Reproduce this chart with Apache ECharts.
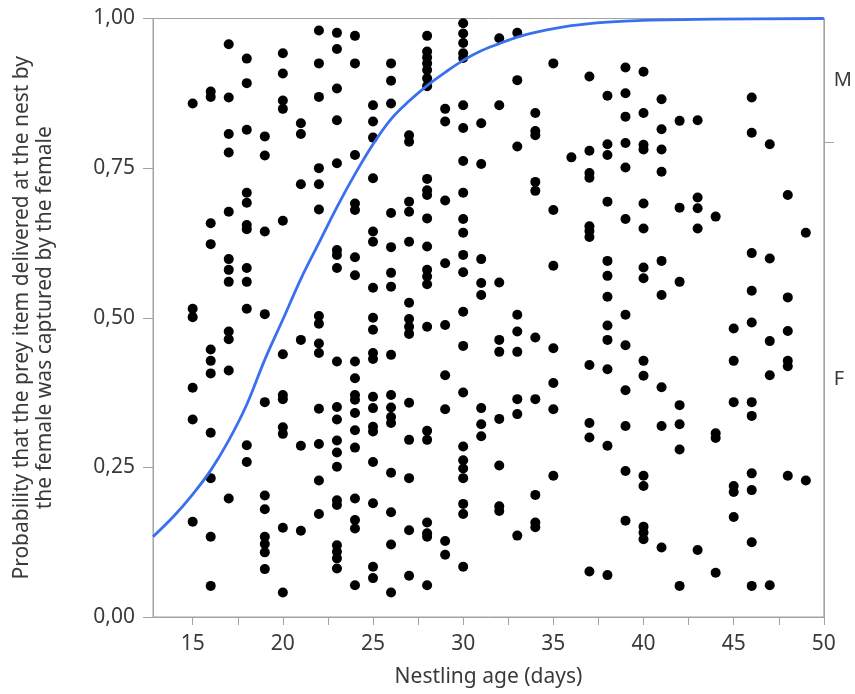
<!DOCTYPE html>
<html>
<head>
<meta charset="utf-8">
<script src="https://cdn.jsdelivr.net/npm/echarts@6/dist/echarts.min.js"></script>
<style>html,body{margin:0;padding:0;background:#fff}#c{width:855px;height:694px}</style>
</head>
<body>
<div id="c"></div>
<script>
// Nestling age (days) of each column of observations
const ages = [15,16,17,18,19,20,21,22,23,24,25,26,27,28,29,30,31,32,33,34,35,36,37,38,39,40,41,42,43,44,45,46,47,48,49];
// jittered response positions (probability scale) per age column
const obs = [
  [0.858,0.515,0.501,0.383,0.330,0.159],
  [0.878,0.869,0.658,0.623,0.447,0.428,0.407,0.308,0.232,0.134,0.052],
  [0.957,0.868,0.807,0.776,0.677,0.598,0.580,0.560,0.477,0.464,0.412,0.198],
  [0.933,0.892,0.814,0.709,0.692,0.655,0.648,0.583,0.560,0.515,0.287,0.259],
  [0.803,0.771,0.644,0.506,0.359,0.203,0.180,0.134,0.122,0.108,0.080],
  [0.942,0.908,0.863,0.849,0.662,0.439,0.371,0.364,0.317,0.306,0.149,0.041],
  [0.825,0.807,0.723,0.463,0.286,0.144],
  [0.980,0.925,0.869,0.750,0.723,0.681,0.503,0.490,0.457,0.441,0.348,0.289,0.228,0.172],
  [0.976,0.949,0.883,0.830,0.758,0.613,0.605,0.583,0.427,0.351,0.330,0.295,0.275,0.251,0.195,0.187,0.120,0.109,0.098,0.081],
  [0.971,0.925,0.772,0.691,0.680,0.601,0.571,0.427,0.399,0.371,0.363,0.341,0.312,0.283,0.198,0.162,0.148,0.053],
  [0.855,0.828,0.801,0.733,0.644,0.627,0.550,0.500,0.480,0.441,0.431,0.368,0.349,0.318,0.310,0.259,0.190,0.084,0.065],
  [0.925,0.896,0.858,0.675,0.618,0.575,0.552,0.438,0.371,0.350,0.334,0.324,0.241,0.175,0.121,0.041],
  [0.805,0.794,0.694,0.677,0.627,0.525,0.498,0.485,0.473,0.358,0.296,0.232,0.145,0.069],
  [0.971,0.945,0.935,0.925,0.914,0.900,0.887,0.732,0.713,0.705,0.666,0.619,0.580,0.569,0.556,0.485,0.311,0.296,0.158,0.140,0.134,0.053],
  [0.849,0.828,0.696,0.591,0.488,0.404,0.347,0.127,0.104],
  [0.992,0.975,0.959,0.942,0.934,0.855,0.817,0.762,0.709,0.665,0.642,0.605,0.576,0.510,0.453,0.375,0.285,0.262,0.248,0.232,0.189,0.172,0.084],
  [0.825,0.757,0.598,0.558,0.538,0.349,0.322,0.302],
  [0.967,0.855,0.559,0.463,0.443,0.331,0.253,0.185,0.177],
  [0.976,0.897,0.786,0.505,0.477,0.443,0.364,0.339,0.136],
  [0.842,0.812,0.805,0.727,0.712,0.467,0.364,0.204,0.158,0.150],
  [0.925,0.680,0.587,0.449,0.391,0.347,0.236],
  [0.768],
  [0.903,0.779,0.742,0.734,0.653,0.645,0.635,0.421,0.324,0.300,0.076],
  [0.871,0.790,0.772,0.694,0.595,0.570,0.535,0.487,0.463,0.414,0.286,0.070],
  [0.918,0.875,0.836,0.792,0.751,0.665,0.505,0.454,0.379,0.319,0.244,0.161],
  [0.911,0.842,0.789,0.781,0.691,0.649,0.584,0.566,0.428,0.403,0.236,0.219,0.151,0.141,0.130],
  [0.865,0.815,0.781,0.744,0.595,0.538,0.384,0.319,0.116],
  [0.829,0.684,0.560,0.354,0.322,0.280,0.052],
  [0.830,0.701,0.683,0.649,0.112],
  [0.669,0.307,0.299,0.074],
  [0.482,0.428,0.359,0.219,0.209,0.167],
  [0.868,0.809,0.608,0.545,0.492,0.359,0.336,0.240,0.212,0.125,0.052],
  [0.790,0.599,0.461,0.404,0.053],
  [0.705,0.534,0.478,0.428,0.419,0.236],
  [0.642,0.228]
];
// fitted logistic curve
const curveAge  = [12.8,14,15,16,17,18,19,20,21,22,23,24,25,26,27,28,29,30,31,32,33,34,36,38,40,44,50];
const curveProb = [0.134,0.17,0.205,0.245,0.295,0.355,0.43,0.497,0.565,0.625,0.685,0.74,0.79,0.832,0.862,0.888,0.91,0.93,0.946,0.958,0.969,0.977,0.988,0.994,0.997,0.999,1.0];
// axis ticks
const xLabels = [15,20,25,30,35,40,45,50];
const xTicks = [15,17.5,20,22.5,25,27.5,30,32.5,35,37.5,40,42.5,45,47.5,50];
const sexSplit = 0.793;
const sexLabels = ['M','F'];

const points = [];
ages.forEach((a,i)=>obs[i].forEach(v=>points.push([a,v])));
const curve = curveAge.map((a,i)=>[a,curveProb[i]]);

const FONT = '"Noto Sans", "Open Sans", sans-serif';
const GRAY = '#a3a3a3';
const TXT = '#3a3a3a';

const chart = echarts.init(document.getElementById('c'));
chart.setOption({
  animation:false,
  textStyle:{fontFamily:FONT},
  grid:{left:153,right:29,top:18.5,bottom:77,show:true,borderColor:GRAY,borderWidth:1,containLabel:false},
  xAxis:{
    type:'value',min:12.8,max:50,
    name:'Nestling age (days)',nameLocation:'middle',nameGap:50,
    nameTextStyle:{fontSize:21,color:TXT,fontFamily:FONT},
    axisLine:{show:true,lineStyle:{color:GRAY,width:1}},
    axisTick:{show:true,customValues:xTicks,length:8,lineStyle:{color:GRAY}},
    axisLabel:{customValues:xLabels,fontSize:21,color:TXT,margin:17,fontFamily:FONT},
    splitLine:{show:false}
  },
  yAxis:[{
    type:'value',min:0,max:1,interval:0.25,
    name:'Probability that the prey item delivered at the nest by\nthe female was captured by the female',
    nameLocation:'middle',nameRotate:90,nameGap:96,
    nameTextStyle:{fontSize:21,lineHeight:23,color:TXT,fontFamily:FONT,align:'center'},
    axisLine:{show:true,lineStyle:{color:GRAY,width:1}},
    axisTick:{show:true,length:10,lineStyle:{color:GRAY}},
    axisLabel:{fontSize:21,color:TXT,margin:18,fontFamily:FONT,formatter:v=>v.toFixed(2).replace('.',',')},
    splitLine:{show:false}
  },{
    type:'value',min:0,max:1,position:'right',
    axisLine:{show:true,lineStyle:{color:GRAY,width:1}},
    axisTick:{show:true,customValues:[sexSplit],length:10,lineStyle:{color:GRAY}},
    axisLabel:{customValues:[(1+sexSplit)/2,sexSplit/2],fontSize:20,color:TXT,margin:10,fontFamily:FONT,
      formatter:v=>v>sexSplit?sexLabels[0]:sexLabels[1]},
    splitLine:{show:false}
  }],
  series:[{
    type:'scatter',data:points,symbolSize:10,itemStyle:{color:'#000',opacity:1},z:2
  },{
    type:'line',data:curve,smooth:0.35,showSymbol:false,symbol:'none',
    lineStyle:{color:'#3a6ff0',width:2.8},z:3,clip:true
  }]
});
</script>
</body>
</html>
